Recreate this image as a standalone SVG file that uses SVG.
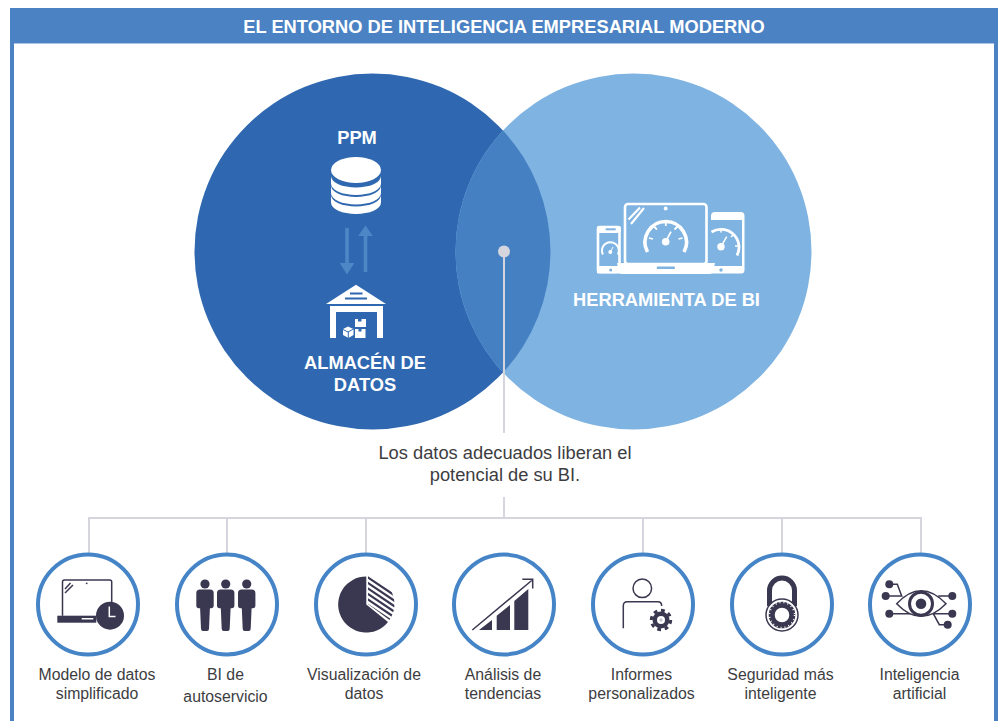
<svg xmlns="http://www.w3.org/2000/svg" width="1001" height="721" viewBox="0 0 1001 721">
<style>
text{font-family:"Liberation Sans",Arial,sans-serif}
.t{fill:#fff;font-weight:700;text-anchor:middle;font-size:18.300px}
.l{fill:#3d3d3f;font-size:15.800px;text-anchor:middle}
.cap{fill:#3d3d3f;font-size:18.300px;text-anchor:middle}
.ring{fill:#fff;stroke:#4584c6;stroke-width:4}
.d{fill:#3a3750}
.ds{fill:none;stroke:#3a3750;stroke-width:1.5}
.c{fill:none;stroke:#d5d5de;stroke-width:2}
.w{fill:#fff}
.ws{fill:none;stroke:#fff;stroke-width:2.6}
.wt{fill:none;stroke:#fff}
</style>
<defs>
<g id="person"><circle cx="0" cy="584" r="4.6"/><path d="M-8.700 593q0-3.600 3.600-3.600h10.200q3.600 0 3.600 3.600v12.500q0 2.800-2.600 2.800h-1.200l-.9 20.500q-.1 2.200-2 2.200h-4q-1.900 0-2-2.200l-.9-20.500h-1.200q-2.600 0-2.600-2.800z"/></g>
<clipPath id="hatch"><path d="M368 604V575.500A28.500 28.500 0 0 1 389.500 620Z"/></clipPath>
</defs>
<rect width="1001" height="721" fill="#fff"/>
<g id="frame">
<rect x="10" y="8" width="4" height="713" fill="#4a82c4"/>
<rect x="994" y="8" width="4" height="713" fill="#4a82c4"/>
<rect x="10" y="8" width="988" height="35" fill="#4a82c4"/>
<rect x="14" y="43" width="980" height="1" fill="#a8c5e6"/>
<text class="t" x="504" y="33">EL ENTORNO DE INTELIGENCIA EMPRESARIAL MODERNO</text>
</g>
<g id="venn">
<circle id="circle-left" cx="372.500" cy="251.500" r="178" fill="#2f68b0"/>
<circle id="circle-right" cx="633.500" cy="251.500" r="178" fill="#7fb3e2"/>
<path id="overlap" d="M503 130.500A178 178 0 0 1 503 372.500A178 178 0 0 1 503 130.500Z" fill="#4580c3"/>
</g>
<g id="connectors">
<line class="c" x1="504" y1="252" x2="504" y2="433"/>
<line class="c" x1="504" y1="497" x2="504" y2="518"/>
<path class="c" d="M89 553V518H921V553"/>
<line class="c" x1="227" y1="518" x2="227" y2="553"/>
<line class="c" x1="366" y1="518" x2="366" y2="553"/>
<line class="c" x1="643" y1="518" x2="643" y2="553"/>
<line class="c" x1="782" y1="518" x2="782" y2="553"/>
<circle cx="504" cy="251.500" r="6" fill="#d5d5de"/>
</g>
<g id="ppm">
<text class="t" x="357" y="144">PPM</text>
<ellipse class="w" cx="356" cy="170" rx="25" ry="13"/>
<path class="w" d="M331 176A25 11.500 0 0 0 381 176V183.500A25 11.500 0 0 1 331 183.500Z"/>
<path class="w" d="M331 185.500A25 11.500 0 0 0 381 185.500V193A25 11.500 0 0 1 331 193Z"/>
<path class="w" d="M331 195A25 11.500 0 0 0 381 195V202.500A25 11.500 0 0 1 331 202.500Z"/>
</g>
<g id="sync-arrows" fill="#4d87c6">
<path d="M345.200 228h3.600v35h5.500l-7.300 11.500l-7.300-11.500h5.500z"/>
<path d="M363.700 272h3.600v-36h5.500l-7.300-10.500l-7.300 10.500h5.500z"/>
</g>
<g id="almacen">
<path class="w" d="M356 284.700L386 304H326Z"/>
<rect x="350" y="292.500" width="12.500" height="2" fill="#2f68b0"/>
<rect x="345" y="297.500" width="22" height="2" fill="#2f68b0"/>
<path class="w" fill-rule="evenodd" d="M330 306H383V338H377V312H336V338H330Z"/>
<path class="w" fill-rule="evenodd" d="M355 319h3v2.500h3.500v-2.500h4.500v8h-11zM355 329h3.500v2.500h3v-2.500h4v9h-10.500zM348 326.500l5.500 2.500v6l-5 3l-5.500-3v-6z"/>
<path d="M343 329.500l5 2.500l5.500-3M348.300 332v6" fill="none" stroke="#2f68b0" stroke-width="1"/>
<text class="t" x="365" y="369">ALMACÉN DE</text>
<text class="t" x="365" y="391">DATOS</text>
</g>
<g id="herramienta">
<rect class="ws" x="598" y="227" width="21.500" height="45" rx="2"/>
<rect class="w" x="597" y="226" width="24" height="7" rx="2"/>
<rect x="605.700" y="228.300" width="10" height="2" fill="#7fb3e2"/>
<rect class="w" x="597" y="266" width="24" height="7.500" rx="1"/>
<circle cx="610.700" cy="270" r="1.500" fill="#7fb3e2"/>
<path class="wt" stroke-width="2" d="M603 254.500A8.400 8.400 0 1 1 617.800 254.500"/>
<circle class="w" cx="610.300" cy="252" r="2"/><path class="wt" stroke-width="1" d="M610.300 252L613 247"/>
<path class="w" d="M711 216q0-4 4-4h25.500q4 0 4 4v54q0 3.500-3.500 3.500H711V266h31V220H711Z"/>
<circle cx="721" cy="270" r="1.700" fill="#7fb3e2"/>
<path class="wt" stroke-width="2.800" d="M711.500 232A18 18 0 0 1 737 255.500"/>
<path class="wt" stroke-width="1.500" d="M721 229.500v3M733 235l-2 2M738 246h-3"/>
<circle class="w" cx="721" cy="246.700" r="3.700"/><path class="wt" stroke-width="1.500" d="M721 246.700L726.700 236.700"/>
<rect class="ws" x="625" y="204" width="81.500" height="60" rx="3" stroke-width="3"/>
<circle class="w" cx="665.700" cy="208.500" r="1.900"/>
<path class="wt" stroke-width="2.200" d="M628.500 219.500L640 207.500M631 224L644 208"/>
<path class="w" d="M617 263H715L713 271q-.6 3-3.500 3H622q-3 0-3.500-3Z"/>
<rect x="656.700" y="266.500" width="18.300" height="2.500" rx="1" fill="#7fb3e2"/>
<path class="wt" stroke-width="3.600" d="M647.500 252A20.700 20.700 0 1 1 684 252"/>
<path class="wt" stroke-width="1.800" d="M649 238l4 1M654 226.500l3 3M665.800 222v4M677.500 226.500l-3 3M682.500 238l-4 1"/>
<circle class="w" cx="665.700" cy="241.700" r="3.800"/><path class="wt" stroke-width="1.800" d="M665.700 241.700L671 231.700"/>
<text class="t" x="666.500" y="306">HERRAMIENTA DE BI</text>
</g>
<g id="caption">
<text class="cap" x="505" y="459">Los datos adecuados liberan el</text>
<text class="cap" x="505" y="481">potencial de su BI.</text>
</g>
<g id="node-modelo">
<circle class="ring" cx="88" cy="604.500" r="50"/>
<path class="ds" d="M62.500 615.700V582q0-2 2-2h45.200q2 0 2 2v20"/>
<circle class="d" cx="86.700" cy="583.300" r=".9"/>
<path class="ds" stroke-width="1" d="M65 589L70.500 583M65 593L73 585"/>
<rect class="d" x="57.300" y="615.700" width="39" height="7"/>
<rect x="81.700" y="618" width="11.600" height="1.500" fill="#fff"/>
<circle class="d" cx="110" cy="615.700" r="14"/>
<path fill="none" stroke="#fff" stroke-width="1.500" d="M109.300 606.500V616.500H115.500"/>
<text class="l" x="97" y="680">Modelo de datos</text><text class="l" x="97" y="699">simplificado</text>
</g>
<g id="node-autoservicio">
<circle class="ring" cx="227" cy="604.500" r="50"/>
<use class="d" href="#person" x="205"/><use class="d" href="#person" x="225.700"/><use class="d" href="#person" x="246.700"/>
<text class="l" x="225.500" y="680">BI de</text><text class="l" x="225.500" y="702">autoservicio</text>
</g>
<g id="node-visualizacion">
<circle class="ring" cx="366" cy="604.500" r="50"/>
<path class="d" d="M366.300 604.500V576.500A28 28 0 1 0 388 622Z"/>
<g clip-path="url(#hatch)" stroke="#3a3750" stroke-width="2.100">
<path d="M360 572l40 27M360 577.500l40 27M360 583l40 27M360 588.500l40 27M360 594l40 27M360 599.500l40 27"/>
</g>
<text class="l" x="364" y="680">Visualización de</text><text class="l" x="364" y="699">datos</text>
</g>
<g id="node-analisis">
<circle class="ring" cx="504" cy="604.500" r="50"/>
<path class="d" d="M479 630L492 620V630ZM496.700 630V615.700L510 605V630ZM514.300 630V601L528.300 589V630Z"/>
<path class="ds" d="M472.300 630L531.700 580.500M522.300 579.300H532.700V588.500"/>
<text class="l" x="503" y="680">Análisis de</text><text class="l" x="503" y="699">tendencias</text>
</g>
<g id="node-informes">
<circle class="ring" cx="643" cy="604.500" r="50"/>
<circle class="ds" cx="642.300" cy="588.300" r="9.300"/>
<path class="ds" d="M623.300 628.300V605.700q0-4 4-4H658q3.700 0 3.700 4.300"/>
<circle fill="none" stroke="#3a3750" stroke-width="3" pathLength="8" stroke-dasharray=".5 .5" cx="661" cy="620" r="9.700"/>
<circle class="d" cx="661" cy="620" r="8.500"/>
<circle class="w" cx="661" cy="620" r="4"/>
<circle cx="661" cy="620" r="1.700" fill="#c9c8d2"/>
<text class="l" x="641.500" y="680">Informes</text><text class="l" x="641.500" y="699">personalizados</text>
</g>
<g id="node-seguridad">
<circle class="ring" cx="782" cy="604.500" r="50"/>
<path fill="none" stroke="#3a3750" stroke-width="5" d="M769.500 606V590.500A12.500 12.500 0 0 1 794.500 590.500V606"/>
<circle cx="782" cy="615" r="16" fill="#fff" stroke="#3a3750" stroke-width="1.500"/>
<circle cx="782" cy="615" r="10.300" fill="none" stroke="#3a3750" stroke-width="6"/>
<circle cx="782" cy="615" r="12.500" fill="none" stroke="#fff" stroke-width="1.500" stroke-dasharray="1 3"/>
<text class="l" x="780.500" y="680">Seguridad más</text><text class="l" x="780.500" y="699">inteligente</text>
</g>
<g id="node-inteligencia">
<circle class="ring" cx="920" cy="604.500" r="50"/>
<path class="ds" d="M885.700 596H901.700L897.300 584.300H889.300M889.300 613.700H911.700M952.300 596H938.300M952.300 613.700H933.300L939.300 624.700H947.700"/>
<path class="ds" d="M896.700 603.700Q921 578 946 603.700Q921 629 896.700 603.700Z" style="fill:#fff"/>
<circle cx="921" cy="603.700" r="11.500" fill="#fff" stroke="#3a3750" stroke-width="3"/>
<circle class="d" cx="921" cy="603.700" r="5.300"/>
<g class="d"><circle cx="889.300" cy="584.300" r="4"/><circle cx="885.700" cy="596" r="4"/><circle cx="889.300" cy="613.700" r="4"/><circle cx="952.300" cy="596" r="4"/><circle cx="952.300" cy="613.700" r="4"/><circle cx="947.700" cy="624.700" r="4"/></g>
<text class="l" x="919.500" y="680">Inteligencia</text><text class="l" x="919.500" y="699">artificial</text>
</g>
</svg>
